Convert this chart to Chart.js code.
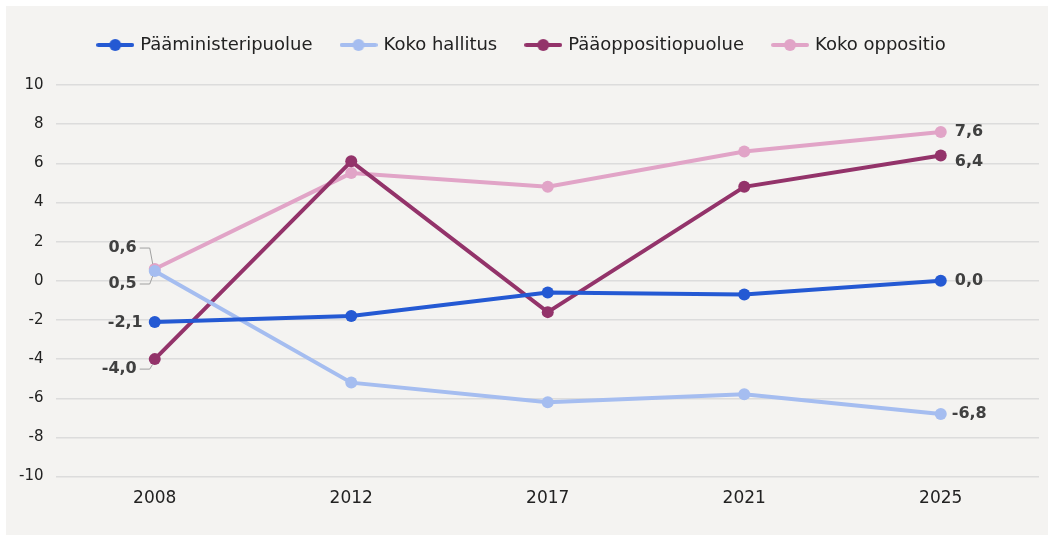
<!DOCTYPE html>
<html>
<head>
<meta charset="utf-8">
<script src="https://cdn.jsdelivr.net/npm/chart.js@4"></script>
<style>
  html, body { margin: 0; padding: 0; background: #ffffff; }
  #wrap { position: absolute; left: 6px; top: 6px; width: 1042px; height: 529px; background: #f4f3f1; }
</style>
</head>
<body>
<div id="wrap"><canvas id="linechart"></canvas></div>
<script>
const years = ['2008', '2012', '2017', '2021', '2025'];
const paaministeripuolue = [-2.1, -1.8, -0.6, -0.7, 0.0];
const kokoHallitus = [0.5, -5.2, -6.2, -5.8, -6.8];
const paaoppositiopuolue = [-4.0, 6.1, -1.6, 4.8, 6.4];
const kokoOppositio = [0.6, 5.5, 4.8, 6.6, 7.6];
const yTicks = [-10, -8, -6, -4, -2, 0, 2, 4, 6, 8, 10];

const colors = ['#2459d3', '#a5bdf0', '#93336a', '#e1a4c7'];
const names = ['Pääministeripuolue', 'Koko hallitus', 'Pääoppositiopuolue', 'Koko oppositio'];
const series = [paaministeripuolue, kokoHallitus, paaoppositiopuolue, kokoOppositio];

// legend marker: short line with a dot
function marker(color) {
    const c = document.createElement('canvas');
    c.width = 38; c.height = 14;
    const g = c.getContext('2d');
    g.strokeStyle = color;
    g.lineWidth = 4;
    g.lineCap = 'round';
    g.beginPath(); g.moveTo(2, 7); g.lineTo(36, 7); g.stroke();
    g.fillStyle = color;
    g.beginPath(); g.arc(19, 7, 6, 0, Math.PI * 2); g.fill();
    return c;
}

function fmt(v) {
    return v.toFixed(1).replace('.', ',');
}

// label offsets for first / last point of each series
const labelPos = [
    { first: { dx: -12, dy: 1, leader: false }, last: { dx: 14, dy: 0 } },
    { first: { dx: -18, dy: 13, leader: true }, last: { dx: 11, dy: 0 } },
    { first: { dx: -18, dy: 10, leader: true }, last: { dx: 14, dy: 6 } },
    { first: { dx: -18, dy: -21, leader: true }, last: { dx: 14, dy: 0 } }
];

const endLabels = {
    id: 'endLabels',
    afterDatasetsDraw(chart) {
        const ctx = chart.ctx;
        ctx.save();
        ctx.font = 'bold 16px "DejaVu Sans"';
        ctx.fillStyle = '#404040';
        ctx.textBaseline = 'middle';
        chart.data.datasets.forEach((ds, i) => {
            const pts = chart.getDatasetMeta(i).data;
            const p0 = pts[0], p1 = pts[pts.length - 1];
            const f = labelPos[i].first, l = labelPos[i].last;
            if (f.leader) {
                const ly = p0.y + f.dy;
                ctx.strokeStyle = '#a0a0a0';
                ctx.lineWidth = 1;
                ctx.beginPath();
                ctx.moveTo(p0.x + f.dx + 3, ly);
                ctx.lineTo(p0.x - 5, ly);
                ctx.lineTo(p0.x - 2, p0.y + (f.dy > 0 ? 5 : -5));
                ctx.stroke();
            }
            ctx.textAlign = 'right';
            ctx.fillText(fmt(ds.data[0]), p0.x + f.dx, p0.y + f.dy);
            ctx.textAlign = 'left';
            ctx.fillText(fmt(ds.data[ds.data.length - 1]), p1.x + l.dx, p1.y + l.dy);
        });
        ctx.restore();
    }
};

// extra space below the legend
const legendSpace = {
    id: 'legendSpace',
    beforeInit(chart) {
        const fit = chart.legend.fit;
        chart.legend.fit = function () {
            fit.bind(chart.legend)();
            this.height += 21;
        };
    }
};

const ctx = document.getElementById('linechart').getContext('2d');
const myChart = new Chart(ctx, {
    type: 'line',
    data: {
        labels: years,
        datasets: series.map((d, i) => ({
            label: names[i],
            data: d,
            borderColor: colors[i],
            backgroundColor: colors[i],
            borderWidth: 4,
            pointRadius: 6,
            pointHoverRadius: 6,
            pointBorderWidth: 0,
            tension: 0
        }))
    },
    options: {
        responsive: true,
        maintainAspectRatio: false,
        animation: false,
        layout: { padding: { left: 0, right: 9, top: 0, bottom: 22 } },
        plugins: {
            tooltip: { enabled: false },
            legend: {
                position: 'top',
                labels: {
                    usePointStyle: true,
                    pointStyleWidth: 32,
                    font: { family: 'DejaVu Sans', size: 18 },
                    color: '#222222',
                    padding: 30,
                    generateLabels(chart) {
                        return chart.data.datasets.map((ds, i) => ({
                            text: ds.label,
                            pointStyle: marker(colors[i]),
                            fillStyle: colors[i],
                            strokeStyle: colors[i],
                            lineWidth: 0,
                            datasetIndex: i,
                            fontColor: '#222222'
                        }));
                    }
                }
            }
        },
        scales: {
            x: {
                offset: true,
                grid: { display: false },
                border: { display: false },
                ticks: { font: { family: 'DejaVu Sans', size: 17 }, color: '#222222', padding: 4 }
            },
            y: {
                min: -10,
                max: 10,
                afterBuildTicks(axis) { axis.ticks = yTicks.map(v => ({ value: v })); },
                grid: { color: '#dcdcdc', lineWidth: 1.5, drawTicks: false },
                border: { display: false },
                ticks: { font: { family: 'DejaVu Sans', size: 15 }, color: '#222222', padding: 13 }
            }
        }
    },
    plugins: [endLabels, legendSpace]
});
</script>
</body>
</html>
